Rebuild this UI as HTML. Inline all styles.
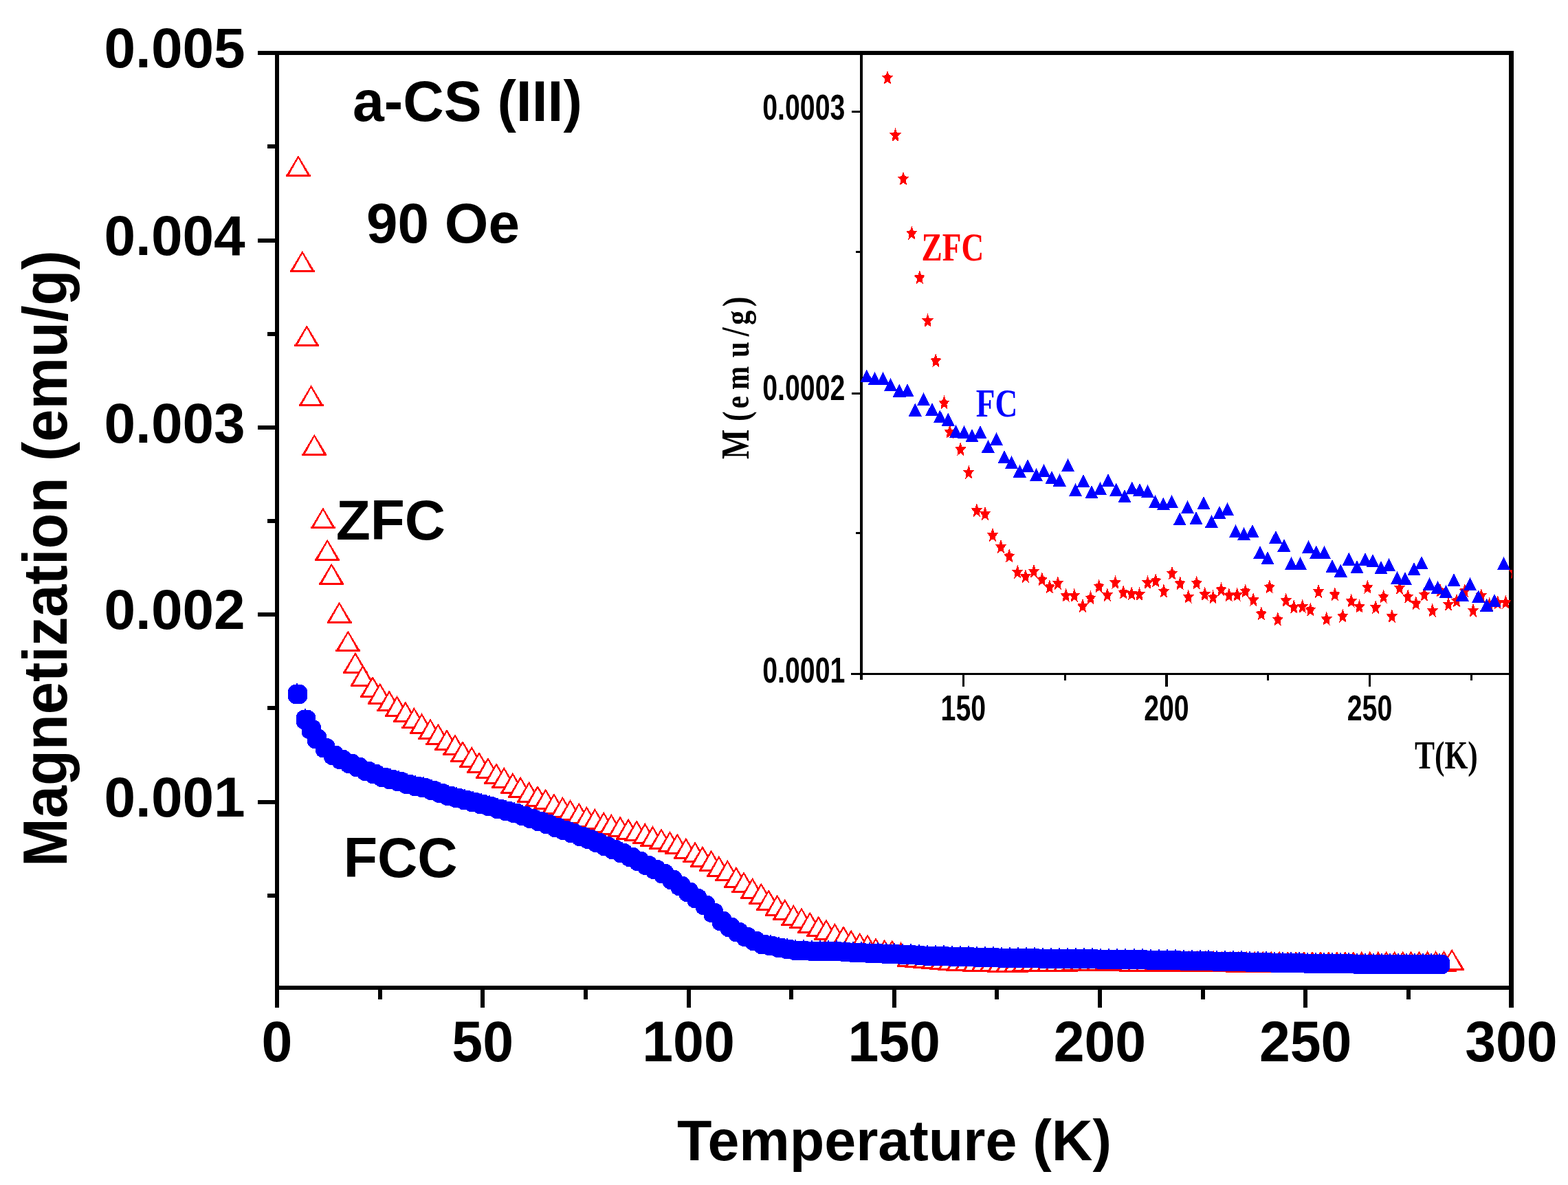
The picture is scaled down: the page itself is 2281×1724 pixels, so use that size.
<!DOCTYPE html><html><head><meta charset="utf-8"><title>ZFC FCC magnetization</title>
<style>html,body{margin:0;padding:0;background:#fff;}svg{display:block;}</style></head><body>
<svg width="2281" height="1724" viewBox="0 0 2281 1724">
<rect x="0" y="0" width="2281" height="1724" fill="#fff"/>
<defs>
<g id="tri" transform="translate(0,-1)"><path d="M0,0 L16.9,28 L18,28 L18,31 L-18,31 L-18,28 L-16.9,28 Z" fill="#fff"/><path d="M0,0 L16.9,28 L18,28 L18,31 L-18,31 L-18,28 L-16.9,28 Z M0,4.2 L-13.2,28 L13.2,28 Z" fill="#f00" fill-rule="evenodd"/></g>
<path id="ftri" d="M0,0 L9.6,19 L-9.6,19 Z" fill="#00f"/>
<path id="star" d="M0,-10.2 L2.3,-3.2 L8.1,-2.5 L3.8,2.6 L5,10.1 L0,6.2 L-5,10.1 L-3.8,2.6 L-8.1,-2.5 L-2.3,-3.2 Z" fill="#f00"/>
<path id="dot" d="M-6,-14 L6,-14 L9.5,-12 L11,-11 L12.5,-9 L14,-6 L14,6 L12.5,9 L11,11 L9.5,12 L6,14 L-6,14 L-9.5,12 L-11,11 L-12.5,9 L-14,6 L-14,-6 L-12.5,-9 L-11,-11 L-9.5,-12 Z M-2,-16 L0,-16 L0,-13 L-2,-13 Z" fill="#00f"/>
<clipPath id="insclip"><rect x="1255" y="80" width="945" height="899"/></clipPath>
</defs>
<g id="zfc" shape-rendering="crispEdges">
<use href="#tri" x="433.9" y="227.1"/>
<use href="#tri" x="439.8" y="366"/>
<use href="#tri" x="446.3" y="474.2"/>
<use href="#tri" x="452.6" y="561.2"/>
<use href="#tri" x="457.4" y="632.7"/>
<use href="#tri" x="469.9" y="739.4"/>
<use href="#tri" x="476.2" y="785.5"/>
<use href="#tri" x="482.3" y="820.5"/>
<use href="#tri" x="493.6" y="876.6"/>
<use href="#tri" x="506.3" y="918.3"/>
<use href="#tri" x="516.9" y="949.7"/>
<use href="#tri" x="527.7" y="968.5"/>
<use href="#tri" x="542" y="984.7"/>
<use href="#tri" x="552.8" y="994.5"/>
<use href="#tri" x="566.2" y="1005.3"/>
<use href="#tri" x="577.6" y="1013"/>
<use href="#tri" x="589.8" y="1021.3"/>
<use href="#tri" x="602.4" y="1030"/>
<use href="#tri" x="613.5" y="1038.3"/>
<use href="#tri" x="626" y="1046.4"/>
<use href="#tri" x="637.4" y="1053.6"/>
<use href="#tri" x="650" y="1062"/>
<use href="#tri" x="662" y="1069.2"/>
<use href="#tri" x="673" y="1078.7"/>
<use href="#tri" x="686.2" y="1086.8"/>
<use href="#tri" x="697" y="1094.8"/>
<use href="#tri" x="709.9" y="1102.9"/>
<use href="#tri" x="722.1" y="1111"/>
<use href="#tri" x="733.2" y="1116.8"/>
<use href="#tri" x="745.8" y="1125"/>
<use href="#tri" x="757.1" y="1130.7"/>
<use href="#tri" x="769.6" y="1137.9"/>
<use href="#tri" x="782" y="1143.7"/>
<use href="#tri" x="793.7" y="1148.3"/>
<use href="#tri" x="805.9" y="1155"/>
<use href="#tri" x="818.4" y="1159.8"/>
<use href="#tri" x="829.6" y="1164"/>
<use href="#tri" x="842.3" y="1168.8"/>
<use href="#tri" x="853.4" y="1173.8"/>
<use href="#tri" x="865.4" y="1177"/>
<use href="#tri" x="878.2" y="1181.9"/>
<use href="#tri" x="889.3" y="1184.9"/>
<use href="#tri" x="902.2" y="1188.2"/>
<use href="#tri" x="914.1" y="1191.8"/>
<use href="#tri" x="926.1" y="1194.1"/>
<use href="#tri" x="938.3" y="1198"/>
<use href="#tri" x="949.4" y="1202.2"/>
<use href="#tri" x="962" y="1206.1"/>
<use href="#tri" x="974.5" y="1210"/>
<use href="#tri" x="985.3" y="1213.3"/>
<use href="#tri" x="997.9" y="1219.6"/>
<use href="#tri" x="1011.1" y="1225.4"/>
<use href="#tri" x="1021.9" y="1231.6"/>
<use href="#tri" x="1034.6" y="1237.6"/>
<use href="#tri" x="1045.8" y="1246"/>
<use href="#tri" x="1058.3" y="1251.9"/>
<use href="#tri" x="1070.9" y="1261.6"/>
<use href="#tri" x="1082" y="1269.3"/>
<use href="#tri" x="1094.6" y="1277.9"/>
<use href="#tri" x="1107.3" y="1285.5"/>
<use href="#tri" x="1118.1" y="1295"/>
<use href="#tri" x="1130.6" y="1302.5"/>
<use href="#tri" x="1141.8" y="1308.8"/>
<use href="#tri" x="1154.3" y="1316.9"/>
<use href="#tri" x="1166" y="1321.4"/>
<use href="#tri" x="1178.2" y="1327.6"/>
<use href="#tri" x="1190.7" y="1333.4"/>
<use href="#tri" x="1201.9" y="1338.4"/>
<use href="#tri" x="1214.4" y="1343.8"/>
<use href="#tri" x="1227" y="1347.9"/>
<use href="#tri" x="1238.1" y="1353.7"/>
<use href="#tri" x="1250.7" y="1357.6"/>
<use href="#tri" x="1262" y="1360.3"/>
<use href="#tri" x="1274" y="1365.3"/>
<use href="#tri" x="1286.7" y="1367.5"/>
<use href="#tri" x="1297.8" y="1368.4"/>
<use href="#tri" x="1310.5" y="1371.4"/>
<use href="#tri" x="1322.5" y="1376.8"/>
<use href="#tri" x="1334.4" y="1378"/>
<use href="#tri" x="1346.4" y="1378.7"/>
<use href="#tri" x="1358.4" y="1379.8"/>
<use href="#tri" x="1370.4" y="1380.9"/>
<use href="#tri" x="1382.3" y="1382"/>
<use href="#tri" x="1394.3" y="1382.8"/>
<use href="#tri" x="1406.3" y="1383.2"/>
<use href="#tri" x="1418.2" y="1383.6"/>
<use href="#tri" x="1430.2" y="1384"/>
<use href="#tri" x="1442.2" y="1384.4"/>
<use href="#tri" x="1454.1" y="1384.8"/>
<use href="#tri" x="1466.1" y="1384.8"/>
<use href="#tri" x="1478.1" y="1384.5"/>
<use href="#tri" x="1490.1" y="1384.2"/>
<use href="#tri" x="1502" y="1384"/>
<use href="#tri" x="1514" y="1383.9"/>
<use href="#tri" x="1526" y="1383.7"/>
<use href="#tri" x="1537.9" y="1383.6"/>
<use href="#tri" x="1549.9" y="1383.5"/>
<use href="#tri" x="1561.9" y="1383.4"/>
<use href="#tri" x="1573.8" y="1383.3"/>
<use href="#tri" x="1585.8" y="1383.1"/>
<use href="#tri" x="1597.8" y="1383"/>
<use href="#tri" x="1609.8" y="1383.1"/>
<use href="#tri" x="1621.7" y="1383.2"/>
<use href="#tri" x="1633.7" y="1383.3"/>
<use href="#tri" x="1645.7" y="1383.5"/>
<use href="#tri" x="1657.6" y="1383.6"/>
<use href="#tri" x="1669.6" y="1383.7"/>
<use href="#tri" x="1681.6" y="1383.8"/>
<use href="#tri" x="1693.5" y="1383.9"/>
<use href="#tri" x="1705.5" y="1384"/>
<use href="#tri" x="1717.5" y="1384.1"/>
<use href="#tri" x="1729.5" y="1384.1"/>
<use href="#tri" x="1741.4" y="1384.2"/>
<use href="#tri" x="1753.4" y="1384.3"/>
<use href="#tri" x="1765.4" y="1384.3"/>
<use href="#tri" x="1777.3" y="1384.4"/>
<use href="#tri" x="1789.3" y="1384.4"/>
<use href="#tri" x="1801.3" y="1384.5"/>
<use href="#tri" x="1813.2" y="1384.6"/>
<use href="#tri" x="1825.2" y="1384.6"/>
<use href="#tri" x="1837.2" y="1384.7"/>
<use href="#tri" x="1849.2" y="1384.7"/>
<use href="#tri" x="1861.1" y="1384.8"/>
<use href="#tri" x="1873.1" y="1384.9"/>
<use href="#tri" x="1885.1" y="1384.9"/>
<use href="#tri" x="1897" y="1385"/>
<use href="#tri" x="1909" y="1385"/>
<use href="#tri" x="1921" y="1385"/>
<use href="#tri" x="1932.9" y="1385"/>
<use href="#tri" x="1944.9" y="1385"/>
<use href="#tri" x="1956.9" y="1385"/>
<use href="#tri" x="1968.9" y="1385"/>
<use href="#tri" x="1980.8" y="1385"/>
<use href="#tri" x="1992.8" y="1385"/>
<use href="#tri" x="2004.8" y="1385"/>
<use href="#tri" x="2016.7" y="1384.8"/>
<use href="#tri" x="2028.7" y="1384.7"/>
<use href="#tri" x="2040.7" y="1384.6"/>
<use href="#tri" x="2052.6" y="1384.5"/>
<use href="#tri" x="2064.6" y="1384.4"/>
<use href="#tri" x="2076.6" y="1384.2"/>
<use href="#tri" x="2088.6" y="1384.1"/>
<use href="#tri" x="2100.5" y="1383.9"/>
<use href="#tri" x="2112.1" y="1381.6"/>
</g>
<g id="fcc" fill="#00f" shape-rendering="crispEdges">
<use href="#dot" x="433" y="1010"/>
<use href="#dot" x="444.8" y="1047"/>
<use href="#dot" x="452.5" y="1061"/>
<use href="#dot" x="461" y="1075"/>
<use href="#dot" x="473" y="1088.4"/>
<use href="#dot" x="485" y="1098.5"/>
<use href="#dot" x="497" y="1105.2"/>
<use href="#dot" x="509.1" y="1110.5"/>
<use href="#dot" x="521.1" y="1116"/>
<use href="#dot" x="533.1" y="1121.5"/>
<use href="#dot" x="545.1" y="1126.2"/>
<use href="#dot" x="557.1" y="1130.5"/>
<use href="#dot" x="569.1" y="1134"/>
<use href="#dot" x="581.1" y="1137"/>
<use href="#dot" x="593.2" y="1140.7"/>
<use href="#dot" x="605.2" y="1143.5"/>
<use href="#dot" x="617.2" y="1146.4"/>
<use href="#dot" x="629.2" y="1149.9"/>
<use href="#dot" x="641.2" y="1153.8"/>
<use href="#dot" x="653.2" y="1157.7"/>
<use href="#dot" x="665.2" y="1160.9"/>
<use href="#dot" x="677.3" y="1164"/>
<use href="#dot" x="689.3" y="1167.2"/>
<use href="#dot" x="701.3" y="1170.3"/>
<use href="#dot" x="713.3" y="1173.4"/>
<use href="#dot" x="725.3" y="1176.6"/>
<use href="#dot" x="737.3" y="1179.7"/>
<use href="#dot" x="749.4" y="1182.8"/>
<use href="#dot" x="761.4" y="1186.7"/>
<use href="#dot" x="773.4" y="1190.9"/>
<use href="#dot" x="785.4" y="1195.1"/>
<use href="#dot" x="797.4" y="1199.4"/>
<use href="#dot" x="809.4" y="1203.6"/>
<use href="#dot" x="821.4" y="1208"/>
<use href="#dot" x="833.5" y="1212.3"/>
<use href="#dot" x="845.5" y="1216.7"/>
<use href="#dot" x="857.5" y="1221"/>
<use href="#dot" x="869.5" y="1225.9"/>
<use href="#dot" x="881.5" y="1231.1"/>
<use href="#dot" x="893.5" y="1236.2"/>
<use href="#dot" x="905.5" y="1241.3"/>
<use href="#dot" x="917.6" y="1246.7"/>
<use href="#dot" x="929.6" y="1252.8"/>
<use href="#dot" x="941.6" y="1259"/>
<use href="#dot" x="953.6" y="1265.1"/>
<use href="#dot" x="965.6" y="1271.3"/>
<use href="#dot" x="977.6" y="1279.6"/>
<use href="#dot" x="989.6" y="1288.7"/>
<use href="#dot" x="1001.7" y="1297.9"/>
<use href="#dot" x="1013.7" y="1307.3"/>
<use href="#dot" x="1025.7" y="1316.8"/>
<use href="#dot" x="1037.7" y="1328.1"/>
<use href="#dot" x="1049.7" y="1339.8"/>
<use href="#dot" x="1061.7" y="1348.7"/>
<use href="#dot" x="1073.8" y="1356.4"/>
<use href="#dot" x="1085.8" y="1363.2"/>
<use href="#dot" x="1097.8" y="1368.8"/>
<use href="#dot" x="1109.8" y="1373.8"/>
<use href="#dot" x="1121.8" y="1376.2"/>
<use href="#dot" x="1133.8" y="1378.5"/>
<use href="#dot" x="1145.8" y="1380.5"/>
<use href="#dot" x="1157.9" y="1382.5"/>
<use href="#dot" x="1169.9" y="1383.3"/>
<use href="#dot" x="1181.9" y="1383.5"/>
<use href="#dot" x="1193.9" y="1383.7"/>
<use href="#dot" x="1205.9" y="1383.9"/>
<use href="#dot" x="1217.9" y="1384.3"/>
<use href="#dot" x="1229.9" y="1385"/>
<use href="#dot" x="1242" y="1385.7"/>
<use href="#dot" x="1254" y="1386.4"/>
<use href="#dot" x="1266" y="1387.1"/>
<use href="#dot" x="1278" y="1387.4"/>
<use href="#dot" x="1290" y="1387.8"/>
<use href="#dot" x="1302" y="1388.3"/>
<use href="#dot" x="1314" y="1388.8"/>
<use href="#dot" x="1326.1" y="1389.4"/>
<use href="#dot" x="1338.1" y="1390.1"/>
<use href="#dot" x="1350.1" y="1390.6"/>
<use href="#dot" x="1362.1" y="1391"/>
<use href="#dot" x="1374.1" y="1391.3"/>
<use href="#dot" x="1386.1" y="1391.7"/>
<use href="#dot" x="1398.1" y="1392"/>
<use href="#dot" x="1410.2" y="1392.3"/>
<use href="#dot" x="1422.2" y="1392.7"/>
<use href="#dot" x="1434.2" y="1393"/>
<use href="#dot" x="1446.2" y="1393.3"/>
<use href="#dot" x="1458.2" y="1393.7"/>
<use href="#dot" x="1470.2" y="1394"/>
<use href="#dot" x="1482.2" y="1394.1"/>
<use href="#dot" x="1494.3" y="1394.3"/>
<use href="#dot" x="1506.3" y="1394.4"/>
<use href="#dot" x="1518.3" y="1394.5"/>
<use href="#dot" x="1530.3" y="1394.6"/>
<use href="#dot" x="1542.3" y="1394.8"/>
<use href="#dot" x="1554.3" y="1394.9"/>
<use href="#dot" x="1566.4" y="1395"/>
<use href="#dot" x="1578.4" y="1395.2"/>
<use href="#dot" x="1590.4" y="1395.4"/>
<use href="#dot" x="1602.4" y="1395.6"/>
<use href="#dot" x="1614.4" y="1395.7"/>
<use href="#dot" x="1626.4" y="1395.9"/>
<use href="#dot" x="1638.4" y="1396.1"/>
<use href="#dot" x="1650.5" y="1396.3"/>
<use href="#dot" x="1662.5" y="1396.4"/>
<use href="#dot" x="1674.5" y="1396.6"/>
<use href="#dot" x="1686.5" y="1396.8"/>
<use href="#dot" x="1698.5" y="1397"/>
<use href="#dot" x="1710.5" y="1397.2"/>
<use href="#dot" x="1722.5" y="1397.5"/>
<use href="#dot" x="1734.6" y="1397.8"/>
<use href="#dot" x="1746.6" y="1398.1"/>
<use href="#dot" x="1758.6" y="1398.3"/>
<use href="#dot" x="1770.6" y="1398.6"/>
<use href="#dot" x="1782.6" y="1398.9"/>
<use href="#dot" x="1794.6" y="1399.2"/>
<use href="#dot" x="1806.6" y="1399.4"/>
<use href="#dot" x="1818.7" y="1399.7"/>
<use href="#dot" x="1830.7" y="1400"/>
<use href="#dot" x="1842.7" y="1400.3"/>
<use href="#dot" x="1854.7" y="1400.5"/>
<use href="#dot" x="1866.7" y="1400.8"/>
<use href="#dot" x="1878.7" y="1401.1"/>
<use href="#dot" x="1890.8" y="1401.3"/>
<use href="#dot" x="1902.8" y="1401.5"/>
<use href="#dot" x="1914.8" y="1401.7"/>
<use href="#dot" x="1926.8" y="1401.9"/>
<use href="#dot" x="1938.8" y="1402.1"/>
<use href="#dot" x="1950.8" y="1402.3"/>
<use href="#dot" x="1962.8" y="1402.4"/>
<use href="#dot" x="1974.9" y="1402.6"/>
<use href="#dot" x="1986.9" y="1402.8"/>
<use href="#dot" x="1998.9" y="1403"/>
<use href="#dot" x="2010.9" y="1403"/>
<use href="#dot" x="2022.9" y="1403"/>
<use href="#dot" x="2034.9" y="1403"/>
<use href="#dot" x="2046.9" y="1403"/>
<use href="#dot" x="2059" y="1403"/>
<use href="#dot" x="2071" y="1403"/>
<use href="#dot" x="2083" y="1403"/>
<use href="#dot" x="2095" y="1403"/>
</g>
<g fill="#000" shape-rendering="crispEdges">
<rect x="400" y="74" width="6" height="1392"/>
<rect x="2195" y="74" width="7" height="1392"/>
<rect x="375" y="74" width="1827" height="6"/>
<rect x="400" y="1433.5" width="1802" height="6.5"/>
<rect x="375" y="346.5" width="26" height="6"/>
<rect x="375" y="618.8" width="26" height="6"/>
<rect x="375" y="891.1" width="26" height="6"/>
<rect x="375" y="1163.5" width="26" height="6"/>
<rect x="389" y="210.3" width="12" height="6"/>
<rect x="389" y="482.7" width="12" height="6"/>
<rect x="389" y="755" width="12" height="6"/>
<rect x="389" y="1027.3" width="12" height="6"/>
<rect x="389" y="1299.6" width="12" height="6"/>
<rect x="699.2" y="1436" width="6" height="30"/>
<rect x="998.5" y="1436" width="6" height="30"/>
<rect x="1297.7" y="1436" width="6" height="30"/>
<rect x="1596.9" y="1436" width="6" height="30"/>
<rect x="1896.2" y="1436" width="6" height="30"/>
<rect x="549.6" y="1436" width="6" height="18"/>
<rect x="848.8" y="1436" width="6" height="18"/>
<rect x="1148.1" y="1436" width="6" height="18"/>
<rect x="1447.3" y="1436" width="6" height="18"/>
<rect x="1746.5" y="1436" width="6" height="18"/>
<rect x="2045.8" y="1436" width="6" height="18"/>
</g>
<g font-family="Liberation Sans, Arial, sans-serif" font-weight="bold" font-size="82" fill="#000">
<text x="151.5" y="98">0.005</text>
<text x="151.5" y="370.8">0.004</text>
<text x="151.5" y="644.4">0.003</text>
<text x="151.5" y="915">0.002</text>
<text x="151.5" y="1188.1">0.001</text>
</g>
<g font-family="Liberation Sans, Arial, sans-serif" font-weight="bold" font-size="84" fill="#000" text-anchor="middle">
<text transform="translate(403,1544.3) scale(0.96,1)">0</text>
<text transform="translate(702.2,1544.3) scale(0.96,1)">50</text>
<text transform="translate(1001.5,1544.3) scale(0.96,1)">100</text>
<text transform="translate(1300.7,1544.3) scale(0.96,1)">150</text>
<text transform="translate(1599.9,1544.3) scale(0.96,1)">200</text>
<text transform="translate(1899.2,1544.3) scale(0.96,1)">250</text>
<text transform="translate(2198.4,1544.3) scale(0.96,1)">300</text>
</g>
<text font-family="Liberation Sans, Arial, sans-serif" font-weight="bold" font-size="84.3" transform="translate(985.1,1688) scale(0.98,1)">Temperature (K)</text>
<text font-family="Liberation Sans, Arial, sans-serif" font-weight="bold" font-size="90.4" transform="translate(97.3,1261.1) rotate(-90) scale(0.94,1)">Magnetization (emu/g)</text>
<text font-family="Liberation Sans, Arial, sans-serif" font-weight="bold" font-size="84" transform="translate(513,175.7) scale(0.98,1)">a-CS (III)</text>
<text font-family="Liberation Sans, Arial, sans-serif" font-weight="bold" font-size="81.8" x="533.1" y="353">90 Oe</text>
<text font-family="Liberation Sans, Arial, sans-serif" font-weight="bold" font-size="82" x="488.7" y="784.7">ZFC</text>
<text font-family="Liberation Sans, Arial, sans-serif" font-weight="bold" font-size="82" transform="translate(499.7,1276.2) scale(0.985,1)">FCC</text>
<g fill="#000" shape-rendering="crispEdges">
<rect x="1250.5" y="77" width="4.5" height="912.4"/>
<rect x="1237.5" y="978.5" width="962" height="3.8"/>
<rect x="1239" y="160.5" width="13" height="3"/>
<rect x="1239" y="571" width="13" height="3"/>
<rect x="1245" y="365.1" width="7" height="3"/>
<rect x="1245" y="774" width="7" height="3"/>
<rect x="1399.7" y="980" width="3.2" height="18.5"/>
<rect x="1695.3" y="980" width="3.2" height="18.5"/>
<rect x="1990.9" y="980" width="3.2" height="18.5"/>
<rect x="1547.5" y="980" width="3.2" height="9.5"/>
<rect x="1843.1" y="980" width="3.2" height="9.5"/>
<rect x="2138.7" y="980" width="3.2" height="9.5"/>
</g>
<g font-family="Liberation Sans, Arial, sans-serif" font-weight="bold" font-size="51.5" fill="#000" text-anchor="end">
<text transform="translate(1229.4,174.1) scale(0.763,1)">0.0003</text>
<text transform="translate(1229.4,582.2) scale(0.763,1)">0.0002</text>
<text transform="translate(1229.4,992.7) scale(0.763,1)">0.0001</text>
</g>
<g font-family="Liberation Sans, Arial, sans-serif" font-weight="bold" font-size="51.5" fill="#000" text-anchor="middle">
<text transform="translate(1401.3,1047.5) scale(0.763,1)">150</text>
<text transform="translate(1696.9,1047.5) scale(0.763,1)">200</text>
<text transform="translate(1992.5,1047.5) scale(0.763,1)">250</text>
</g>
<g shape-rendering="crispEdges">
<use href="#star" x="1291" y="112.5"/>
<use href="#star" x="1302.5" y="196"/>
<use href="#star" x="1314" y="259.5"/>
<use href="#star" x="1326.3" y="338.6"/>
<use href="#star" x="1337.9" y="403.2"/>
<use href="#star" x="1349.6" y="466"/>
<use href="#star" x="1361.3" y="524.2"/>
<use href="#star" x="1373.5" y="585.5"/>
<use href="#star" x="1381.6" y="627.7"/>
<use href="#star" x="1397.3" y="653.1"/>
<use href="#star" x="1409.2" y="686.7"/>
<use href="#star" x="1420.9" y="742"/>
<use href="#star" x="1433" y="747"/>
<use href="#star" x="1444" y="778"/>
<use href="#star" x="1456" y="795"/>
<use href="#star" x="1468.2" y="808.4"/>
<use href="#star" x="1480.2" y="831.7"/>
<use href="#star" x="1491.9" y="838"/>
<use href="#star" x="1503.9" y="830.8"/>
<use href="#star" x="1515.8" y="842.5"/>
<use href="#star" x="1526.9" y="853.3"/>
<use href="#star" x="1538.9" y="847.9"/>
<use href="#star" x="1550.6" y="865.8"/>
<use href="#star" x="1562.8" y="865.8"/>
<use href="#star" x="1575" y="881.1"/>
<use href="#star" x="1586.5" y="869.4"/>
<use href="#star" x="1598.7" y="852.4"/>
<use href="#star" x="1610.9" y="864.9"/>
<use href="#star" x="1622.4" y="847"/>
<use href="#star" x="1634.2" y="861.3"/>
<use href="#star" x="1646.2" y="863.1"/>
<use href="#star" x="1657.5" y="864"/>
<use href="#star" x="1669.5" y="847"/>
<use href="#star" x="1681.2" y="844.3"/>
<use href="#star" x="1692.9" y="859.5"/>
<use href="#star" x="1705.1" y="833.5"/>
<use href="#star" x="1716.7" y="848.2"/>
<use href="#star" x="1728.7" y="867.7"/>
<use href="#star" x="1740.7" y="847.5"/>
<use href="#star" x="1752.6" y="863.9"/>
<use href="#star" x="1764.6" y="868.4"/>
<use href="#star" x="1776.5" y="857.2"/>
<use href="#star" x="1787.8" y="865.4"/>
<use href="#star" x="1799.7" y="864.7"/>
<use href="#star" x="1811.7" y="859.4"/>
<use href="#star" x="1823.3" y="872.1"/>
<use href="#star" x="1834.9" y="892.3"/>
<use href="#star" x="1846.8" y="853.4"/>
<use href="#star" x="1858.8" y="900.5"/>
<use href="#star" x="1870.7" y="872.9"/>
<use href="#star" x="1882.2" y="882.6"/>
<use href="#star" x="1894.7" y="881.9"/>
<use href="#star" x="1906.3" y="886.4"/>
<use href="#star" x="1918" y="860"/>
<use href="#star" x="1929.7" y="899.8"/>
<use href="#star" x="1941.9" y="864.2"/>
<use href="#star" x="1953.3" y="895.6"/>
<use href="#star" x="1965.7" y="873.8"/>
<use href="#star" x="1977.5" y="881.8"/>
<use href="#star" x="1989.4" y="853.7"/>
<use href="#star" x="2001.2" y="883"/>
<use href="#star" x="2012.6" y="867.5"/>
<use href="#star" x="2024.8" y="895.9"/>
<use href="#star" x="2036" y="854.8"/>
<use href="#star" x="2048.2" y="867.5"/>
<use href="#star" x="2059.9" y="877.2"/>
<use href="#star" x="2071.9" y="864.5"/>
<use href="#star" x="2083.8" y="887.7"/>
<use href="#star" x="2095" y="858.5"/>
<use href="#star" x="2107" y="878.7"/>
<use href="#star" x="2119" y="873.4"/>
<use href="#star" x="2130.9" y="859.2"/>
<use href="#star" x="2142.9" y="887.7"/>
<use href="#star" x="2154.8" y="866"/>
<use href="#star" x="2166.8" y="878.7"/>
<use href="#star" x="2178.8" y="876.4"/>
<use href="#star" x="2190.4" y="875.7"/>
<use href="#ftri" x="1260.8" y="537.2"/>
<use href="#ftri" x="1272.4" y="540.9"/>
<use href="#ftri" x="1284.4" y="540.9"/>
<use href="#ftri" x="1295.6" y="549.9"/>
<use href="#ftri" x="1308.3" y="558.9"/>
<use href="#ftri" x="1320" y="558.1"/>
<use href="#ftri" x="1331.2" y="586.5"/>
<use href="#ftri" x="1343.5" y="570.8"/>
<use href="#ftri" x="1355.9" y="585.8"/>
<use href="#ftri" x="1367.4" y="596.3"/>
<use href="#ftri" x="1379.3" y="600.7"/>
<use href="#ftri" x="1390.5" y="617.9"/>
<use href="#ftri" x="1402.5" y="618.7"/>
<use href="#ftri" x="1414" y="623.9"/>
<use href="#ftri" x="1426" y="618.7"/>
<use href="#ftri" x="1437.5" y="639.7"/>
<use href="#ftri" x="1449.4" y="629"/>
<use href="#ftri" x="1460.9" y="655"/>
<use href="#ftri" x="1471.6" y="663.1"/>
<use href="#ftri" x="1483.3" y="676"/>
<use href="#ftri" x="1495" y="668.1"/>
<use href="#ftri" x="1507.5" y="681"/>
<use href="#ftri" x="1518.5" y="675.1"/>
<use href="#ftri" x="1530" y="685"/>
<use href="#ftri" x="1541.3" y="689.1"/>
<use href="#ftri" x="1553.5" y="667"/>
<use href="#ftri" x="1564.6" y="702.9"/>
<use href="#ftri" x="1575.9" y="690"/>
<use href="#ftri" x="1587.9" y="706.1"/>
<use href="#ftri" x="1600.5" y="700.7"/>
<use href="#ftri" x="1612.1" y="689.1"/>
<use href="#ftri" x="1623.8" y="702.9"/>
<use href="#ftri" x="1636" y="711.9"/>
<use href="#ftri" x="1646.8" y="700.2"/>
<use href="#ftri" x="1657.9" y="702.9"/>
<use href="#ftri" x="1669.5" y="705.2"/>
<use href="#ftri" x="1680.7" y="720.1"/>
<use href="#ftri" x="1692.3" y="723.2"/>
<use href="#ftri" x="1704.5" y="720.1"/>
<use href="#ftri" x="1716.2" y="745.3"/>
<use href="#ftri" x="1727.5" y="727.8"/>
<use href="#ftri" x="1739.9" y="744"/>
<use href="#ftri" x="1751.1" y="721.9"/>
<use href="#ftri" x="1762.3" y="749.1"/>
<use href="#ftri" x="1774" y="736.1"/>
<use href="#ftri" x="1785.5" y="731.1"/>
<use href="#ftri" x="1797.5" y="763"/>
<use href="#ftri" x="1809.4" y="767"/>
<use href="#ftri" x="1821.8" y="763"/>
<use href="#ftri" x="1832.9" y="793.9"/>
<use href="#ftri" x="1844.1" y="801.9"/>
<use href="#ftri" x="1855.8" y="772"/>
<use href="#ftri" x="1867.9" y="783.9"/>
<use href="#ftri" x="1878.7" y="810.1"/>
<use href="#ftri" x="1891.7" y="810.1"/>
<use href="#ftri" x="1903.6" y="786.2"/>
<use href="#ftri" x="1914.8" y="793.9"/>
<use href="#ftri" x="1926.5" y="793.9"/>
<use href="#ftri" x="1938" y="814.3"/>
<use href="#ftri" x="1950.3" y="820.8"/>
<use href="#ftri" x="1962.3" y="803.9"/>
<use href="#ftri" x="1974.2" y="815.1"/>
<use href="#ftri" x="1985.9" y="803.9"/>
<use href="#ftri" x="1997.1" y="806.2"/>
<use href="#ftri" x="2009.1" y="815.9"/>
<use href="#ftri" x="2020.6" y="812.1"/>
<use href="#ftri" x="2032.5" y="831.1"/>
<use href="#ftri" x="2044.2" y="832"/>
<use href="#ftri" x="2056.9" y="818.1"/>
<use href="#ftri" x="2068.1" y="809.2"/>
<use href="#ftri" x="2079.3" y="840.1"/>
<use href="#ftri" x="2091.3" y="845"/>
<use href="#ftri" x="2103.3" y="851"/>
<use href="#ftri" x="2115.2" y="834.1"/>
<use href="#ftri" x="2127.2" y="856"/>
<use href="#ftri" x="2138.7" y="840.1"/>
<use href="#ftri" x="2150.7" y="858.2"/>
<use href="#ftri" x="2162.6" y="870.5"/>
<use href="#ftri" x="2174" y="864.2"/>
<use href="#ftri" x="2187.4" y="810.2"/>
</g>
<svg x="2190" y="815" width="10" height="30" overflow="hidden"><use href="#star" x="13" y="17"/></svg>
<text font-family="Liberation Serif, Times New Roman, serif" font-weight="bold" font-size="56" fill="#f00" transform="translate(1340.5,379.3) scale(0.81,1)">ZFC</text>
<text font-family="Liberation Serif, Times New Roman, serif" font-weight="bold" font-size="56" fill="#00f" transform="translate(1419.7,606.2) scale(0.81,1)">FC</text>
<text font-family="Liberation Serif, Times New Roman, serif" font-weight="bold" font-size="58" fill="#000" transform="translate(2058,1118) scale(0.75,1)">T(K)</text>
<text font-family="Liberation Serif, Times New Roman, serif" font-weight="bold" fill="#000" font-size="56" x="-0.8 7.2 66.2 89.1 97.1 122.3 130.3 179.7 217.1 237.3 269.7" y="0" transform="translate(1088.8,667.3) rotate(-90) scale(0.82,1)">M <tspan font-size="54">(</tspan><tspan font-size="50">e m u</tspan>/<tspan font-size="51.4">g</tspan><tspan font-size="54">)</tspan></text>
</svg></body></html>
